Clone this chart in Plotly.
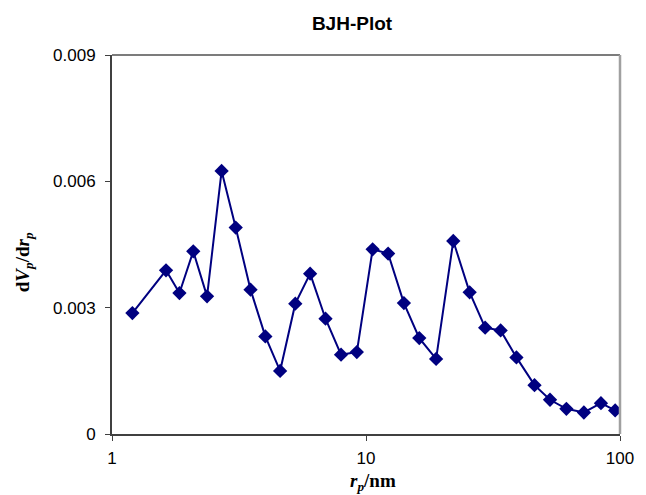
import plotly.graph_objects as go

# Data
pore_radius_nm = [1.203, 1.632, 1.843, 2.089, 2.367, 2.701, 3.069, 3.511, 4.015, 4.590,
                  5.268, 6.026, 6.928, 7.975, 9.202, 10.62, 12.22, 14.10, 16.21, 18.88,
                  22.06, 25.59, 29.45, 33.89, 39.11, 46.07, 53.02, 61.51, 72.08, 84.14, 95.72]
dVp_drp = [0.002872, 0.003887, 0.003347, 0.004338, 0.003269, 0.006247, 0.004902, 0.003428,
           0.002318, 0.001498, 0.003095, 0.003808, 0.002738, 0.001883, 0.001945, 0.004386,
           0.004284, 0.003109, 0.002277, 0.001783, 0.004583, 0.003364, 0.002525, 0.002460,
           0.001819, 0.001160, 0.000813, 0.000599, 0.000511, 0.000732, 0.000559]

y_ticks = [0, 0.003, 0.006, 0.009]
y_tick_text = ["0", "0.003", "0.006", "0.009"]
x_ticks = [1, 10, 100]
x_tick_text = ["1", "10", "100"]

navy = "#000080"
sans = "Liberation Sans, Arial, sans-serif"
serif = "Liberation Serif, Times New Roman, serif"

fig = go.Figure()
fig.add_trace(go.Scatter(
    x=pore_radius_nm, y=dVp_drp, mode="lines+markers",
    line=dict(color=navy, width=2),
    marker=dict(symbol="diamond", size=11, color=navy),
    showlegend=False, hoverinfo="skip",
))

fig.update_layout(
    width=646, height=495,
    margin=dict(l=112, r=19, t=55, b=61),
    paper_bgcolor="white", plot_bgcolor="white",
    font=dict(family=sans, size=17, color="black"),
    title=dict(text="<b>BJH-Plot</b>", x=352/646, xanchor="center",
               y=1 - 23/495, yanchor="middle",
               font=dict(family=sans, size=19, color="black")),
    xaxis=dict(type="log", range=[0, 2], tickvals=x_ticks, ticktext=x_tick_text,
               showgrid=False, zeroline=False, showline=True, linecolor="#404040",
               linewidth=2, ticks="outside", ticklen=5, tickcolor="#404040",
               ticklabelstandoff=3,
               tickfont=dict(family=sans, size=17, color="black")),
    yaxis=dict(range=[0, 0.009], tickvals=y_ticks, ticktext=y_tick_text,
               showgrid=False, zeroline=False, showline=True, linecolor="#404040",
               linewidth=2, ticks="outside", ticklen=5, tickcolor="#404040",
               ticklabelstandoff=6,
               tickfont=dict(family=sans, size=17, color="black")),
    shapes=[
        dict(type="line", xref="paper", yref="paper", x0=0, x1=1, y0=1, y1=1,
             line=dict(color="#505050", width=1.5)),
        dict(type="line", xref="paper", yref="paper", x0=1, x1=1, y0=0, y1=1,
             line=dict(color="#a0a0a0", width=2.5)),
    ],
    annotations=[
        dict(text="<b><i>r</i><sub><i>p</i></sub>/nm</b>", xref="paper", yref="paper",
             x=(377 - 112) / (646 - 112 - 19), y=-(482 - 434) / (434 - 55),
             xanchor="center", yanchor="middle", showarrow=False,
             font=dict(family=serif, size=19, color="black")),
        dict(text="<b>d<i>V</i><sub><i>p</i></sub>/d<i>r</i><sub><i>p</i></sub></b>",
             xref="paper", yref="paper",
             x=-(112 - 23) / (646 - 112 - 19), y=(434 - 262) / (434 - 55),
             xanchor="center", yanchor="middle", textangle=-90, showarrow=False,
             font=dict(family=serif, size=19, color="black")),
    ],
)

fig.write_html("out.html")
